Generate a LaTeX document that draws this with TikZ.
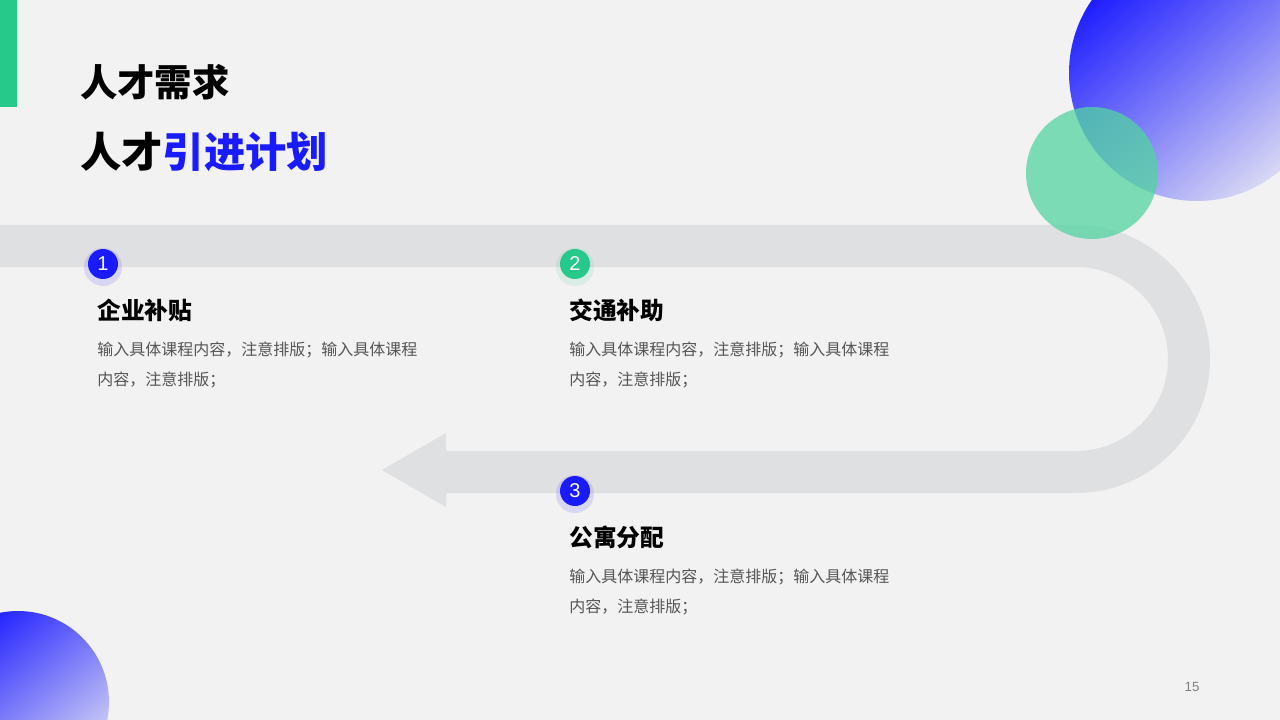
\documentclass[tikz,border=0pt]{standalone}
\usepackage{fontspec}
\setmainfont{Noto Sans CJK SC}
\newfontfamily\numfont{Liberation Sans}
\usetikzlibrary{calc}
\definecolor{bg}{HTML}{F2F2F2}
\definecolor{grn}{HTML}{27C98A}
\definecolor{blu}{HTML}{1A1AFF}
\definecolor{lav}{HTML}{D8D8F4}
\definecolor{road}{HTML}{DFE0E2}
\definecolor{body}{HTML}{555555}
\tikzset{
 numc/.style={circle,minimum size=22.5pt,inner sep=0pt,text=white,font=\numfont\fontsize{15}{15}\selectfont},
 head/.style={anchor=west,inner sep=0pt,font=\fontsize{17.8}{19}\bfseries\selectfont},
 bodyt/.style={anchor=north west,inner sep=0pt,text=body,align=left,font=\fontsize{12}{22}\selectfont},
}
\begin{document}
\begin{tikzpicture}[x=0.75pt,y=-0.75pt]
\fill[bg] (0,0) rectangle (1280,720);
\useasboundingbox (0,0) rectangle (1280,720);
\fill[grn] (0,0) rectangle (17,107);
% road
\draw[road,line width=31.5pt] (0,246) -- (1076,246) arc[start angle=-90,end angle=90,radius=113] -- (440,472);
\fill[road] (446,433) -- (446,507) -- (382,470) -- cycle;
% circles
\shade[shading=axis,top color=blu,bottom color=lav,shading angle=40] (1197,73) circle (128);
\fill[grn!80!white,opacity=0.75] (1092,173) circle (66);
\shade[shading=axis,top color=blu,bottom color=lav,shading angle=40] (18,702) circle (91);
% title
\node[anchor=west,inner sep=0pt,font=\fontsize{28}{30}\bfseries\selectfont] (t1) at (80,82) {人才需求};
\node[anchor=west,inner sep=0pt,font=\fontsize{31}{34}\bfseries\selectfont] (t2) at (80,152) {人才\textcolor{blu}{引进计划}};
% items
\foreach \n/\x/\y/\c/\h in {1/103/264/blu/企业补贴, 2/575/264/grn/交通补助, 3/575/491/blu/公寓分配}{
  \fill[\c,opacity=0.12] (\x,\y+3) circle (19);
  \node[numc,fill=\c] (n\n) at (\x,\y) {\n};
  \node[head] (h\n) at (\x-6,\y+46) {\h};
  \node[bodyt] (b\n) at (\x-6,\y+78) {输入具体课程内容，注意排版；输入具体课程\\内容，注意排版；};
}
\node[text=gray,font=\numfont\fontsize{10}{10}\selectfont] (pg) at (1192,687) {15};
\end{tikzpicture}
\end{document}
